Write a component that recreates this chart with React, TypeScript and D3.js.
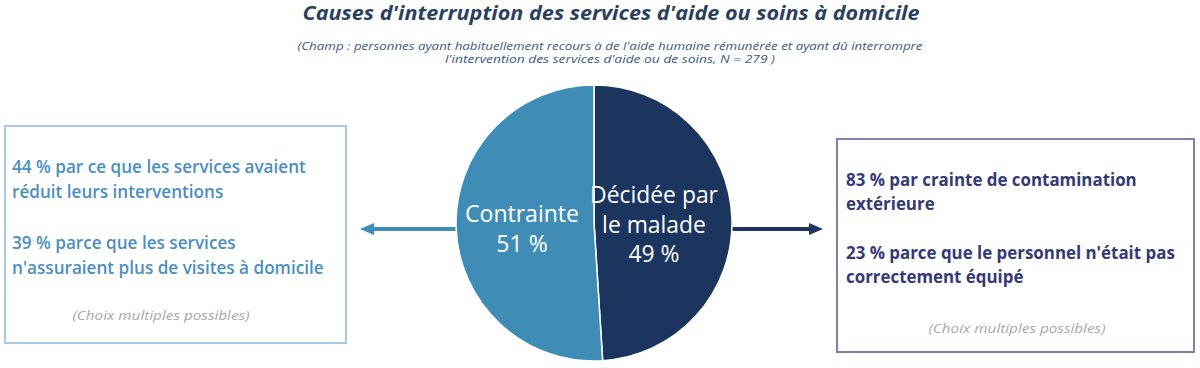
import React, { useEffect, useRef } from 'react';
import * as d3 from 'd3';

const categories = ['Décidée par le malade', 'Contrainte'];
const values = [49, 51];
const sliceLabels = [['Décidée par', 'le malade', '49 %'], ['Contrainte', '51 %']];
const leftLines = ['44 % par ce que les services avaient', 'réduit leurs interventions', '', '39 % parce que les services', "n'assuraient plus de visites à domicile"];
const rightLines = ['83 % par crainte de contamination', 'extérieure', '', "23 % parce que le personnel n'était pas", 'correctement équipé'];
const title = "Causes d'interruption des services d'aide ou soins à domicile";
const subtitle = [
  "(Champ : personnes ayant habituellement recours à de l'aide humaine rémunérée et ayant dû interrompre",
  "l'intervention des services d'aide ou de soins, N = 279 )",
];
const note = '(Choix multiples possibles)';

const colors = ['#1b355f', '#3f8db6'];
const FONT = '"Open Sans", Lato, sans-serif';

// scale font-size so the widest line of a selection is `target` px wide
const fitFont = (sel, target) => {
  let maxW = 0;
  sel.each(function () { maxW = Math.max(maxW, this.getComputedTextLength()); });
  const base = +sel.attr('font-size');
  if (maxW > 0) sel.attr('font-size', (base * target) / maxW);
};

const App = () => {
  const svgRef = useRef<SVGSVGElement>(null);

  useEffect(() => {
    const svg = d3.select(svgRef.current);
    svg.selectAll('*').remove();

    // title
    svg.append('text')
      .attr('x', 611).attr('y', 20)
      .attr('text-anchor', 'middle')
      .attr('font-family', FONT)
      .attr('font-size', 19)
      .attr('font-weight', 'bold')
      .attr('font-style', 'italic')
      .attr('fill', '#2c3f5e')
      .attr('textLength', 617)
      .attr('lengthAdjust', 'spacingAndGlyphs')
      .text(title);

    const subWidths = [625, 330];
    svg.selectAll('text.sub')
      .data(subtitle)
      .join('text')
      .attr('class', 'sub')
      .attr('x', 610).attr('y', (d, i) => 50 + i * 13)
      .attr('text-anchor', 'middle')
      .attr('font-family', FONT)
      .attr('font-size', 10.5)
      .attr('font-style', 'italic')
      .attr('fill', '#3c5a80')
      .attr('textLength', (d, i) => subWidths[i])
      .attr('lengthAdjust', 'spacingAndGlyphs')
      .text(d => d);

    // boxes
    svg.append('rect')
      .attr('x', 5).attr('y', 126).attr('width', 341).attr('height', 217)
      .attr('fill', 'none').attr('stroke', '#a9c9e2').attr('stroke-width', 2);
    svg.append('rect')
      .attr('x', 837).attr('y', 139).attr('width', 357).attr('height', 213)
      .attr('fill', 'none').attr('stroke', '#7d80a8').attr('stroke-width', 2);

    const left = svg.selectAll('text.left')
      .data(leftLines)
      .join('text')
      .attr('class', 'left')
      .attr('x', 12).attr('y', (d, i) => 173 + i * 25.3)
      .attr('font-family', FONT)
      .attr('font-size', 15)
      .attr('font-weight', 600)
      .attr('fill', '#4b8fbe')
      .text(d => d);
    fitFont(left, 312);

    const right = svg.selectAll('text.right')
      .data(rightLines)
      .join('text')
      .attr('class', 'right')
      .attr('x', 846).attr('y', (d, i) => 186 + i * 24.3)
      .attr('font-family', FONT)
      .attr('font-size', 15)
      .attr('font-weight', 'bold')
      .attr('fill', '#343a76')
      .text(d => d);
    fitFont(right, 329);

    [[161, 320], [1017, 333]].forEach(([x, y]) => {
      svg.append('text')
        .attr('x', x).attr('y', y)
        .attr('text-anchor', 'middle')
        .attr('font-family', FONT)
        .attr('font-size', 12)
        .attr('font-style', 'italic')
        .attr('fill', '#a8a8a8')
        .attr('textLength', 177)
        .attr('lengthAdjust', 'spacingAndGlyphs')
        .text(note);
    });

    // arrows
    const cy = 229;
    svg.append('line')
      .attr('x1', 456).attr('y1', cy).attr('x2', 372).attr('y2', cy)
      .attr('stroke', colors[1]).attr('stroke-width', 4);
    svg.append('path')
      .attr('d', d3.line()([[360, cy], [374, cy - 6], [374, cy + 6]]) + 'Z')
      .attr('fill', colors[1]);
    svg.append('line')
      .attr('x1', 732).attr('y1', cy).attr('x2', 810).attr('y2', cy)
      .attr('stroke', colors[0]).attr('stroke-width', 4);
    svg.append('path')
      .attr('d', d3.line()([[823, cy], [809, cy - 6], [809, cy + 6]]) + 'Z')
      .attr('fill', colors[0]);

    // pie
    const r = 138;
    const g = svg.append('g').attr('transform', 'translate(594,223)');
    const pie = d3.pie<number>().sort(null);
    const arc = d3.arc<d3.PieArcDatum<number>>().innerRadius(0).outerRadius(r);
    const arcs = pie(values);
    g.selectAll('path')
      .data(arcs)
      .join('path')
      .attr('d', arc)
      .attr('fill', (d, i) => colors[i])
      .attr('stroke', '#ffffff')
      .attr('stroke-width', 1.5)
      .append('title').text((d, i) => categories[i]);

    const labelPos = [[60, -20], [-72, -1]];
    const labelWidth = [128, 117];
    arcs.forEach((a, i) => {
      const t = g.append('text')
        .attr('x', labelPos[i][0]).attr('y', labelPos[i][1])
        .attr('text-anchor', 'middle')
        .attr('font-family', FONT)
        .attr('font-size', 19)
        .attr('fill', '#ffffff');
      t.selectAll('tspan')
        .data(sliceLabels[i])
        .join('tspan')
        .attr('x', labelPos[i][0])
        .attr('dy', (d, j) => (j === 0 ? 0 : 29.5))
        .text(d => d);
      const w = (t.select('tspan').node() as SVGTextContentElement).getComputedTextLength();
      t.attr('font-size', Math.min(23, (19 * labelWidth[i]) / w));
    });
  }, []);

  return (
    <svg ref={svgRef} width={1200} height={368} style={{ position: 'absolute', left: 0, top: 0 }} />
  );
};

export default App;
